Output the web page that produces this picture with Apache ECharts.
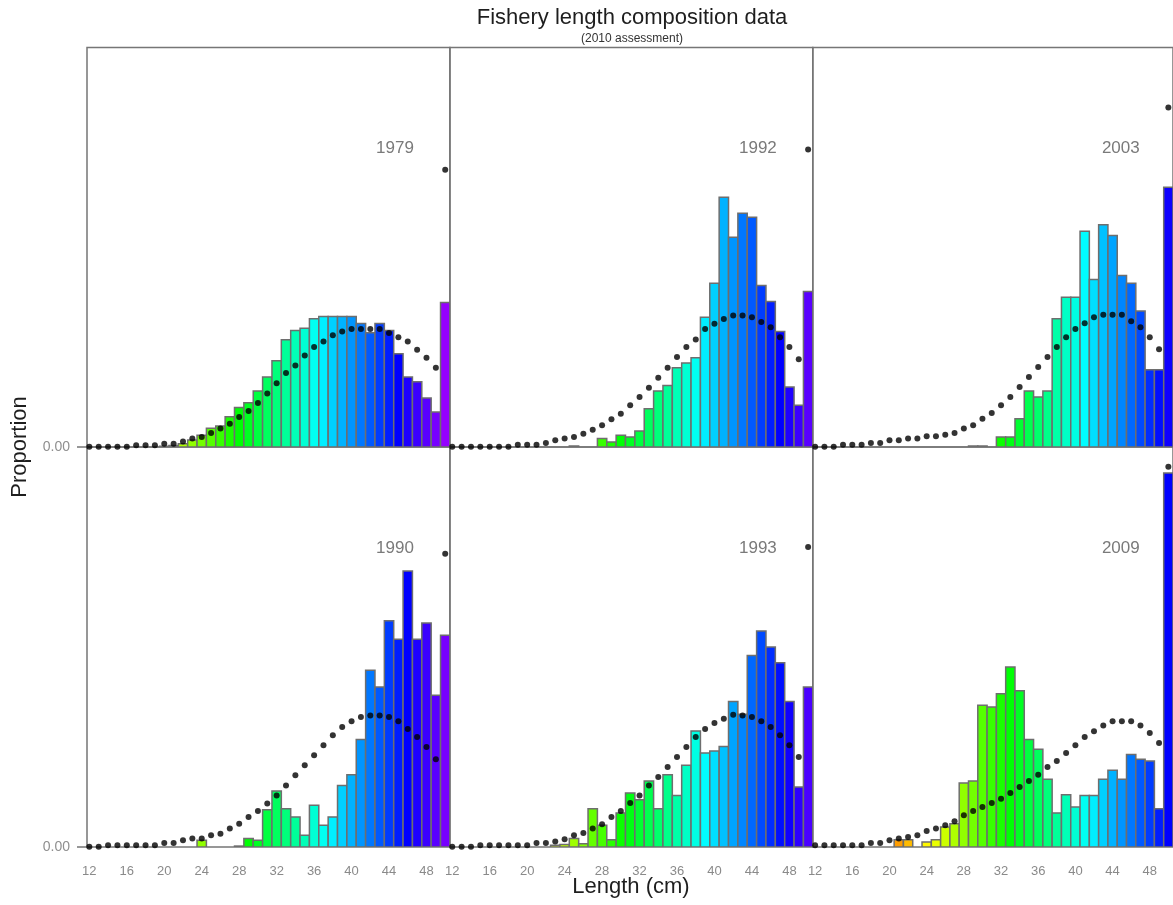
<!DOCTYPE html>
<html>
<head>
<meta charset="utf-8">
<script src="https://cdn.jsdelivr.net/npm/echarts@6/dist/echarts.min.js"></script>
<style>
  html, body { margin: 0; padding: 0; background: #ffffff; }
  #chart { width: 1173px; height: 905px; }
</style>
</head>
<body>
<div id="chart"></div>
<script>
// Length bins (cm); the last bin is the plus group
const lengths = [12,13,14,15,16,17,18,19,20,21,22,23,24,25,26,27,28,29,30,31,
                 32,33,34,35,36,37,38,39,40,41,42,43,44,45,46,47,48,49,50];

const xTicks = [12,16,20,24,28,32,36,40,44,48];
const yTicks = [0];

// Observed proportions (bars) and expected proportions (points), by year
const obs1979 = [0,0,0,0,0,0,0,0,0.0003,0.0006,0.0014,0.003,0.005,0.008,0.009,0.013,0.017,0.019,0.024,0.030,
                 0.037,0.046,0.050,0.051,0.055,0.056,0.056,0.056,0.056,0.053,0.049,0.053,0.050,0.040,0.030,0.028,0.021,0.015,0.062];
const fit1979 = [0.0001,0.0001,0.0001,0.0001,0.0001,0.0007,0.0007,0.0007,0.0014,0.0014,0.0024,0.0036,0.0043,0.006,0.0079,0.010,0.0129,0.0154,0.0189,0.0229,
                 0.0274,0.0317,0.035,0.0393,0.0429,0.0453,0.0479,0.0496,0.0506,0.0506,0.0506,0.0506,0.0489,0.0471,0.0453,0.0417,0.0383,0.034,0.1189];

const obs1992 = [0,0,0,0,0,0,0,0,0,0,0,0,0,0.0004,0,0,0.0036,0.0021,0.005,0.0043,
                 0.0069,0.0164,0.024,0.0264,0.034,0.036,0.0383,0.0557,0.0703,0.1071,0.090,0.1003,0.0986,0.0693,0.0624,0.0496,0.0257,0.0179,0.0667];
const fit1992 = [0.0001,0.0001,0.0001,0.0001,0.0001,0.0001,0.0001,0.001,0.001,0.001,0.0017,0.0029,0.0036,0.0043,0.0057,0.0074,0.0093,0.0119,0.0143,0.0179,
                 0.0214,0.0254,0.0297,0.034,0.0386,0.0429,0.0461,0.0506,0.0529,0.0549,0.0564,0.0564,0.0557,0.0536,0.0514,0.0471,0.0429,0.0376,0.1276];

const obs2003 = [0,0,0,0,0,0,0,0,0,0,0,0,0,0,0,0,0,0.0004,0.0004,0,
                 0.0043,0.0043,0.0121,0.024,0.0214,0.024,0.055,0.0643,0.0643,0.0926,0.0719,0.0953,0.0907,0.0736,0.0703,0.0583,0.0331,0.0331,0.1114];
const fit2003 = [0.0001,0.0001,0.0001,0.001,0.001,0.001,0.0017,0.0017,0.0029,0.0029,0.0036,0.0036,0.0046,0.0046,0.0053,0.006,0.0079,0.0093,0.0121,0.0146,
                 0.0179,0.0214,0.0257,0.030,0.0343,0.0386,0.0429,0.0471,0.0506,0.0531,0.0557,0.0567,0.0567,0.0567,0.0539,0.0514,0.0471,0.0419,0.1457];

const obs1990 = [0,0,0,0,0,0,0,0,0,0,0,0,0.0029,0,0,0,0.0004,0.0036,0.0029,0.016,
                 0.024,0.0164,0.0129,0.005,0.0179,0.0093,0.0129,0.0264,0.031,0.0461,0.0757,0.0686,0.0969,0.089,0.1183,0.089,0.096,0.065,0.0907];
const fit1990 = [0.0001,0.0001,0.0007,0.0007,0.0007,0.0007,0.0007,0.0007,0.0017,0.0017,0.0029,0.0036,0.0036,0.005,0.0057,0.0079,0.010,0.0129,0.0154,0.0186,
                 0.0221,0.0264,0.0307,0.035,0.0393,0.0436,0.0479,0.0514,0.0539,0.0557,0.0564,0.0564,0.0557,0.0539,0.0506,0.0471,0.0429,0.0376,0.1257];

const obs1993 = [0,0,0,0,0,0,0,0,0,0,0,0.0007,0.0011,0.0036,0.0014,0.0164,0.0093,0.0031,0.0146,0.0231,
                 0.0203,0.0283,0.0164,0.031,0.0221,0.035,0.0497,0.0403,0.0411,0.0431,0.0624,0.0569,0.0821,0.0926,0.0857,0.0789,0.0624,0.0257,0.0686];
const fit1993 = [0.0001,0.0001,0.0001,0.0007,0.0007,0.0007,0.0007,0.0007,0.0007,0.0017,0.0017,0.0024,0.0033,0.005,0.006,0.0079,0.0097,0.0129,0.0154,0.0189,
                 0.0221,0.0264,0.030,0.0343,0.0386,0.0429,0.0471,0.0506,0.0531,0.055,0.0567,0.0564,0.0557,0.0539,0.0514,0.0479,0.0436,0.0386,0.1286];

const obs2009 = [0,0,0,0,0,0,0,0,0,0.0031,0.0031,0,0.0021,0.0031,0.0086,0.010,0.0274,0.0283,0.0607,0.060,
                 0.0657,0.0771,0.0669,0.0461,0.0419,0.029,0.0146,0.0224,0.0171,0.0221,0.0221,0.029,0.0329,0.029,0.0396,0.0376,0.0369,0.0164,0.1603];
const fit2009 = [0.0007,0.0007,0.0007,0.0007,0.0007,0.0007,0.0017,0.0017,0.0029,0.0036,0.0043,0.005,0.0069,0.0079,0.0093,0.011,0.0136,0.0154,0.0171,0.0189,
                 0.0207,0.0231,0.0257,0.0283,0.031,0.0343,0.0369,0.0403,0.0436,0.0471,0.0496,0.0521,0.0539,0.0539,0.0539,0.0521,0.0489,0.0446,0.1629];

// Panels, top row then bottom row
const panelYears = [1979, 1992, 2003, 1990, 1993, 2009];
const panelObs = [obs1979, obs1992, obs2003, obs1990, obs1993, obs2009];
const panelFit = [fit1979, fit1992, fit2003, fit1990, fit1993, fit2009];

// ---- styling and layout ----
const FONT = '"Liberation Sans", Arial, Helvetica, sans-serif';
const X_MIN = 11.75, X_MAX = 50.5, Y_MAX = 0.1714;
const PANEL_LEFT = 87, PANEL_W = 362.9;
const ROW_TOP = [47.5, 447], ROW_H = [399.5, 400];
// length at which each panel's colour ramp reaches pure blue
const blueAt = [45, 47, 49.5, 46, 47.5, 50];
function binColour(panel, len) {
  const h = 240 + (len - blueAt[panel]) * 7;
  return 'hsl(' + h.toFixed(1) + ',100%,50%)';
}

const grids = [], xAxes = [], yAxes = [], series = [], graphics = [];

panelYears.forEach(function (year, p) {
  const row = Math.floor(p / 3), col = p % 3;
  const left = PANEL_LEFT + col * PANEL_W;
  grids.push({
    left: left, top: ROW_TOP[row], width: PANEL_W, height: ROW_H[row],
    show: true, borderColor: '#767676', borderWidth: 1.5, backgroundColor: 'transparent'
  });
  xAxes.push({
    type: 'value', gridIndex: p, min: X_MIN, max: X_MAX,
    axisLine: { show: false }, axisTick: { show: false }, splitLine: { show: false },
    axisLabel: {
      show: row === 1, customValues: xTicks, margin: 18,
      color: '#8a8a8a', fontSize: 13, fontFamily: FONT
    }
  });
  yAxes.push({
    type: 'value', gridIndex: p, min: 0, max: Y_MAX,
    axisLine: { show: false }, splitLine: { show: false },
    axisTick: { show: col === 0, customValues: yTicks, length: 10, lineStyle: { color: '#767676', width: 1.5 } },
    axisLabel: {
      show: col === 0, customValues: yTicks, margin: 17,
      formatter: function (v) { return v.toFixed(2); },
      color: '#8f8f8f', fontSize: 14, fontFamily: FONT
    }
  });

  const obs = panelObs[p], fit = panelFit[p];
  series.push({
    type: 'custom', xAxisIndex: p, yAxisIndex: p, clip: true, z: 2,
    data: lengths.map(function (len, i) { return [len, obs[i]]; }),
    renderItem: function (params, api) {
      const len = api.value(0), v = api.value(1);
      if (!(v > 0)) return null;
      const a = api.coord([len - 0.5, 0]);
      const b = api.coord([len + 0.5, v]);
      return {
        type: 'rect',
        shape: { x: a[0], y: b[1], width: b[0] - a[0], height: a[1] - b[1] },
        style: { fill: binColour(p, len), stroke: '#6e6e6e', lineWidth: 1.5 }
      };
    }
  });
  series.push({
    type: 'scatter', xAxisIndex: p, yAxisIndex: p, clip: false, z: 3,
    symbol: 'circle', symbolSize: 6,
    itemStyle: { color: '#000000' },
    data: lengths.map(function (len, i) { return [len, fit[i]]; })
  });

  graphics.push({
    type: 'text', x: left + 308, y: ROW_TOP[row] + 101,
    style: { text: String(year), textAlign: 'center', textVerticalAlign: 'middle',
             font: '17px ' + FONT, fill: '#7a7a7a' }
  });
});

graphics.push(
  { type: 'text', x: 632, y: 18,
    style: { text: 'Fishery length composition data', textAlign: 'center', textVerticalAlign: 'middle',
             font: '22px ' + FONT, fill: '#1e1e1e' } },
  { type: 'text', x: 632, y: 39,
    style: { text: '(2010 assessment)', textAlign: 'center', textVerticalAlign: 'middle',
             font: '12px ' + FONT, fill: '#333333' } },
  { type: 'text', x: 20, y: 447, rotation: Math.PI / 2,
    style: { text: 'Proportion', textAlign: 'center', textVerticalAlign: 'middle',
             font: '22px ' + FONT, fill: '#1e1e1e' } },
  { type: 'text', x: 631, y: 887,
    style: { text: 'Length (cm)', textAlign: 'center', textVerticalAlign: 'middle',
             font: '22px ' + FONT, fill: '#1e1e1e' } }
);

const chart = echarts.init(document.getElementById('chart'), null, { renderer: 'canvas' });
chart.setOption({
  animation: false,
  backgroundColor: '#ffffff',
  grid: grids,
  xAxis: xAxes,
  yAxis: yAxes,
  series: series,
  graphic: graphics
});
</script>
</body>
</html>
